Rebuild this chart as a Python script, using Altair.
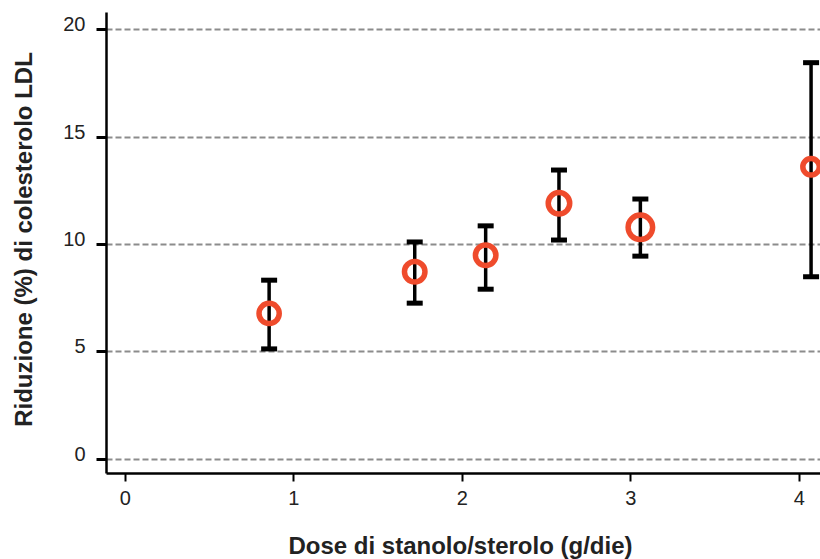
import altair as alt
import pandas as pd

# Data
dose = [0.857, 1.721, 2.142, 2.577, 3.060, 4.073]
mean = [6.76, 8.70, 9.47, 11.89, 10.77, 13.59]
low = [5.11, 7.24, 7.89, 10.18, 9.43, 8.47]
high = [8.31, 10.09, 10.84, 13.44, 12.09, 18.44]
marker_area = [408, 420, 420, 462, 600, 272]

x_ticks = [0, 1, 2, 3, 4]
y_ticks = [0, 5, 10, 15, 20]

df = pd.DataFrame({"dose": dose, "mean": mean, "low": low, "high": high, "area": marker_area})

FONT = "Liberation Sans"
x_scale = alt.Scale(domain=[-0.111, 4.126], nice=False, zero=False)
y_scale = alt.Scale(domain=[-0.67, 20.8], nice=False, zero=False)

x_axis = alt.Axis(
    values=x_ticks, format="d", grid=False, domainColor="black", domainWidth=2.5,
    tickColor="black", tickWidth=2, tickSize=8,
    labelFontSize=20, labelColor="#222222", labelFont=FONT, labelPadding=7,
    title="Dose di stanolo/sterolo (g/die)", titleFont=FONT, titleFontSize=24,
    titleFontWeight="bold", titleColor="#222222", titleBaseline="alphabetic",
    titleX=354, titleY=80,
)
y_axis = alt.Axis(
    values=y_ticks, format="d", grid=True, gridDash=[6, 3], gridColor="#8c8c8c", gridWidth=2,
    domainColor="black", domainWidth=2.5, tickColor="black", tickWidth=3, tickSize=10,
    labelFontSize=20, labelColor="#222222", labelFont=FONT, labelPadding=11,
    labelBaseline="alphabetic", labelOffset=1.5,
    title="Riduzione (%) di colesterolo LDL", titleFont=FONT, titleFontSize=24,
    titleFontWeight="bold", titleColor="#222222", titleBaseline="alphabetic",
    titleX=-75, titleY=227,
)

base = alt.Chart(df)

bars = base.mark_rule(color="black", strokeWidth=3.5).encode(
    x=alt.X("dose:Q", scale=x_scale, axis=x_axis),
    y=alt.Y("low:Q", scale=y_scale, axis=y_axis),
    y2="high:Q",
)
cap_lo = base.mark_tick(color="black", orient="horizontal", size=16, thickness=5, opacity=1).encode(
    x=alt.X("dose:Q", scale=x_scale), y=alt.Y("low:Q", scale=y_scale)
)
cap_hi = base.mark_tick(color="black", orient="horizontal", size=16, thickness=5, opacity=1).encode(
    x=alt.X("dose:Q", scale=x_scale), y=alt.Y("high:Q", scale=y_scale)
)
points = base.mark_point(shape="circle", filled=False, stroke="#EF4B2C", strokeWidth=5.5, opacity=1).encode(
    x=alt.X("dose:Q", scale=x_scale),
    y=alt.Y("mean:Q", scale=y_scale),
    size=alt.Size("area:Q", scale=None, legend=None),
)

chart = (
    alt.layer(bars, cap_lo, cap_hi, points)
    .properties(
        width=714, height=461,
        autosize=alt.AutoSizeParams(type="none"),
        padding={"left": 106, "top": 12, "right": 0, "bottom": 86},
        background="white",
    )
    .configure_view(stroke=None)
)

chart.save("out.html", embed_options={"renderer": "svg", "actions": False})
